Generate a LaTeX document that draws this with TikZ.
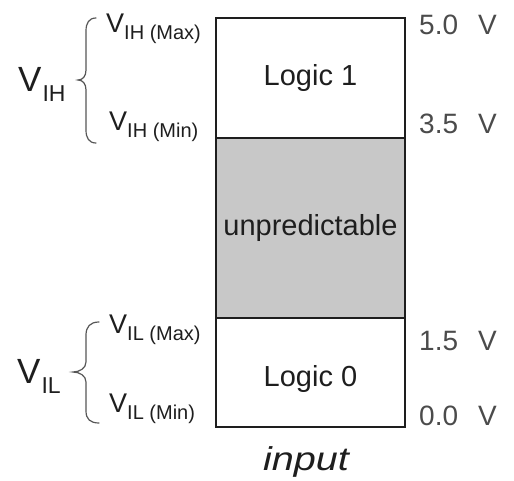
\documentclass[tikz,border=0pt]{standalone}
\usepackage{graphicx}
\usepackage{fontspec}
\setmainfont{Liberation Sans}
\definecolor{boxgray}{RGB}{200,200,200}
\definecolor{ink}{RGB}{30,30,30}
\newcommand{\bigsym}[1]{{\fontsize{35}{35}\selectfont V}\hspace{1pt}\raisebox{-10pt}{\fontsize{23}{23}\selectfont #1}}
\newcommand{\smallsym}[2]{{\fontsize{27}{27}\selectfont V}\raisebox{-7pt}{\fontsize{20}{20}\selectfont #1 (#2)}}
\newcommand{\wide}[1]{\scalebox{1.2}[1]{#1}}
\begin{document}
\begin{tikzpicture}[x=1pt,y=-1pt,
  zone/.style={draw=ink, line width=1.3pt, minimum width=189pt, inner sep=0pt,
    font=\fontsize{29}{30}\selectfont, text=ink},
  lbl/.style={inner sep=0pt, anchor=base west, text=ink},
  rlbl/.style={inner sep=0pt, anchor=base west, text=ink!80, font=\fontsize{28}{28}\selectfont},
  brc/.style={draw=ink!75, line width=1.2pt, line cap=round}]
\useasboundingbox (0,0) rectangle (514,481);
% column
\node[zone, minimum height=120pt] (hi) at (310.5,78) {Logic 1};
\node[zone, minimum height=180pt, fill=boxgray] (mid) at (310.5,228) {unpredictable};
\node[zone, minimum height=109pt, text height=34pt, text depth=6pt] (lo) at (310.5,372.5) {Logic 0};
\node[inner sep=0pt, anchor=base, text=ink, font=\itshape\fontsize{33}{34}\selectfont] (inp) at (306,470) {\wide{input}};
% right values
\node[rlbl] (v50) at (419,35) {5.0\hspace{20pt}V};
\node[rlbl] (v35) at (419,134) {3.5\hspace{20pt}V};
\node[rlbl] (v15) at (419,350) {1.5\hspace{20pt}V};
\node[rlbl] (v00) at (419,425) {0.0\hspace{20pt}V};
% left labels
\node[lbl] (vih) at (18,92) {\bigsym{IH}};
\node[lbl] (vil) at (17,383) {\bigsym{IL}};
\node[lbl] (vihmax) at (106,33) {\smallsym{IH}{Max}};
\node[lbl] (vihmin) at (109,131) {\smallsym{IH}{Min}};
\node[lbl] (vilmax) at (109,333) {\smallsym{IL}{Max}};
\node[lbl] (vilmin) at (109,412) {\smallsym{IL}{Min}};
% braces
\draw[brc] (96,18) .. controls (89,18) and (86,23) .. (86,31) -- (86,70)
  .. controls (86,76) and (83,80) .. (78,80)
  .. controls (83,80) and (86,84) .. (86,90) -- (86,130)
  .. controls (86,138) and (89,143) .. (96,143);
\draw[brc] (99,322) .. controls (90,322) and (86,327) .. (86,335) -- (86,362)
  .. controls (86,368) and (80,372) .. (73,372)
  .. controls (80,372) and (86,376) .. (86,382) -- (86,411)
  .. controls (86,419) and (90,423) .. (99,423);
\end{tikzpicture}
\end{document}
